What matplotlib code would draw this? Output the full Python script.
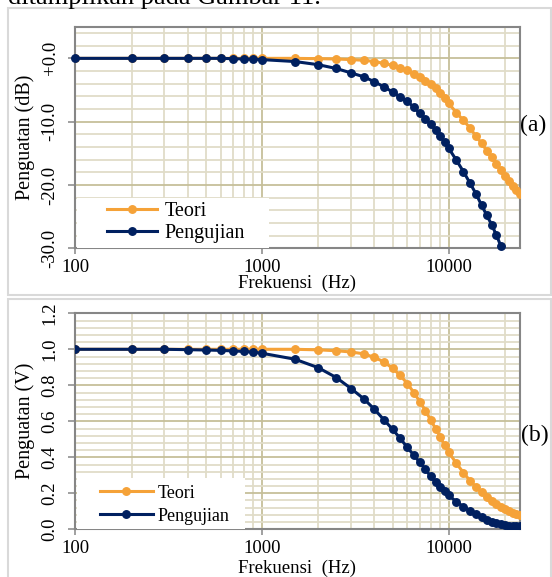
import matplotlib
matplotlib.use("Agg")
import matplotlib.pyplot as plt
from matplotlib.patches import Rectangle
from matplotlib.ticker import FixedLocator, LogLocator, NullFormatter

plt.rcParams['font.family'] = ['Liberation Serif', 'DejaVu Serif']

# frekuensi uji (Hz)
freq = [100, 200, 300, 400, 500, 600, 700, 800, 900, 1000,
        1500, 2000, 2500, 3000, 3500, 4000, 4500, 5000, 5500, 6000,
        6500, 7000, 7500, 8000, 8500, 9000, 9500, 10000,
        11000, 12000, 13000, 14000, 15000, 16000, 17000, 18000, 19000,
        20000, 21000, 22000, 23000, 24000]

# penguatan dalam dB
teori_db = [0.0, 0.0, 0.0, 0.0, 0.0, 0.0, 0.0, 0.0, 0.0, 0.0,
            0.0, -0.05, -0.1, -0.2, -0.3, -0.5, -0.8, -1.1, -1.5, -1.9,
            -2.5, -3.0, -3.5, -4.1, -4.7, -5.4, -6.2, -7.1,
            -8.6, -9.8, -11.0, -12.3, -13.4, -14.6, -15.6, -16.7, -17.7,
            -18.6, -19.4, -20.1, -20.8, -21.4]
# hasil uji di bawah -30 dB tidak tampil pada grafik
pengujian_db = [0.0, 0.0, 0.0, 0.0, 0.0, 0.0, -0.05, -0.1, -0.12, -0.2,
                -0.5, -1.0, -1.6, -2.3, -2.9, -3.7, -4.5, -5.3, -6.1, -6.8,
                -7.7, -8.7, -9.6, -10.4, -11.3, -12.3, -13.2, -14.2,
                -16.1, -17.9, -19.7, -21.4, -23.2, -24.8, -26.3, -27.9, -29.6]

# penguatan dalam V/V
teori_v = [1.0, 1.0, 1.0, 1.0, 1.0, 1.0, 1.0, 1.0, 1.0, 1.0,
           1.0, 0.997, 0.992, 0.985, 0.975, 0.955, 0.93, 0.895, 0.855, 0.81,
           0.76, 0.71, 0.66, 0.607, 0.56, 0.514, 0.468, 0.428,
           0.366, 0.314, 0.27, 0.236, 0.206, 0.181, 0.159, 0.141, 0.126,
           0.112, 0.101, 0.093, 0.086, 0.08]
pengujian_v = [1.0, 1.0, 1.0, 0.998, 0.996, 0.994, 0.991, 0.988, 0.984, 0.978,
               0.945, 0.898, 0.843, 0.782, 0.726, 0.667, 0.608, 0.556, 0.505, 0.455,
               0.412, 0.372, 0.333, 0.294, 0.264, 0.237, 0.21, 0.188,
               0.153, 0.126, 0.104, 0.084, 0.066, 0.053, 0.043, 0.034, 0.028,
               0.024, 0.021, 0.019, 0.018, 0.018]

db_ticks = [-30, -20, -10, 0]
db_labels = ['-30.0', '-20.0', '-10.0', '+0.0']
v_ticks = [0.0, 0.2, 0.4, 0.6, 0.8, 1.0, 1.2]
v_labels = ['0.0', '0.2', '0.4', '0.6', '0.8', '1.0', '1.2']
x_ticks = [100, 1000, 10000]
x_labels = ['100', '1000', '10000']

ORANGE = '#F5A238'
NAVY = '#002060'
GRID_MAJOR = '#C6BF9A'
GRID_MINOR = '#E0DCC8'
SPINE = '#868686'

W, H = 552, 577


def px_rect(l, t, r, b):
    return [l / W, 1 - b / H, (r - l) / W, (b - t) / H]


def style_axes(ax, yticks, ylabels, ylim, yminor, ylabel, xlabel_y):
    ax.set_xscale('log')
    ax.set_xlim(100, 24000)
    ax.set_ylim(*ylim)
    ax.xaxis.set_major_locator(FixedLocator(x_ticks))
    ax.set_xticklabels(x_labels)
    ax.xaxis.set_minor_locator(LogLocator(base=10, subs=range(2, 10)))
    ax.xaxis.set_minor_formatter(NullFormatter())
    ax.set_yticks(yticks)
    ax.set_yticklabels(ylabels, rotation=90, va='center')
    ax.yaxis.set_minor_locator(FixedLocator(yminor))
    ax.grid(which='minor', color=GRID_MINOR, lw=1.3, zorder=0)
    ax.grid(which='major', color=GRID_MAJOR, lw=1.3, zorder=0)
    ax.set_axisbelow(True)
    for s in ax.spines.values():
        s.set_color(SPINE)
        s.set_linewidth(1.5)
    ax.tick_params(which='major', axis='y', length=5, width=1.1, color=SPINE,
                   labelsize=13.5, pad=7)
    ax.tick_params(which='major', axis='x', length=4, width=1.1, color=SPINE,
                   labelsize=13.5, pad=4)
    ax.tick_params(which='minor', length=0)
    ax.set_ylabel(ylabel, fontsize=14.5, ha='center', va='center')
    ax.yaxis.set_label_coords(-0.112, 0.5)
    ax.set_xlabel('Frekuensi  (Hz)', fontsize=13.5, va='center')
    ax.xaxis.set_label_coords(0.5, xlabel_y)


fig = plt.figure(figsize=(W / 100, H / 100), dpi=100)

# bingkai tiap gambar
fig.patches.append(Rectangle((7.5 / W, 1 - 295 / H), 543 / W, 287.5 / H,
                             transform=fig.transFigure, fill=False,
                             ec='#D9D9D9', lw=1.5))
fig.patches.append(Rectangle((7.5 / W, -0.05), 543 / W, 1 - 299.5 / H + 0.05,
                             transform=fig.transFigure, fill=False,
                             ec='#D9D9D9', lw=1.5))

fig.text(8 / W, 1 - 4.0 / H, 'ditampilkan pada Gambar 11.', fontsize=19,
         va='baseline', ha='left')

line_kw = dict(lw=2.2, marker='o', ms=5.4)

# (a) penguatan dB
ax_a = fig.add_axes(px_rect(75.3, 26.7, 519.7, 248.3))
style_axes(ax_a, db_ticks, db_labels, (-30, 5), list(range(-28, 5, 2)),
           'Penguatan (dB)', -0.157)
ax_a.plot(freq, teori_db, color=ORANGE, label='Teori', zorder=3, **line_kw)
ax_a.plot(freq[:len(pengujian_db)], pengujian_db, color=NAVY, label='Pengujian',
          zorder=3, clip_on=False, **line_kw)
ax_a.add_patch(Rectangle((0.004, 0.003), 0.431, 0.224, transform=ax_a.transAxes,
                         fc='white', ec='none', zorder=4))
ax_a.legend(loc='lower left', bbox_to_anchor=(0.071, 0.025), frameon=False,
            fontsize=14.5, handlelength=2.5, handletextpad=0.35, labelspacing=0.15,
            borderpad=0, borderaxespad=0).set_zorder(5)
fig.text(533.5 / W, 1 - 125 / H, '(a)', fontsize=17, ha='center', va='center')

# (b) penguatan V
ax_b = fig.add_axes(px_rect(75.3, 313.3, 519.7, 529.3))
v_minor = [round(0.04 * i, 2) for i in range(1, 30)]
style_axes(ax_b, v_ticks, v_labels, (0, 1.2), v_minor, 'Penguatan (V)', -0.179)
ax_b.plot(freq, teori_v, color=ORANGE, label='Teori', zorder=3, **line_kw)
ax_b.plot(freq, pengujian_v, color=NAVY, label='Pengujian', zorder=3, **line_kw)
ax_b.add_patch(Rectangle((0.004, 0.003), 0.378, 0.234, transform=ax_b.transAxes,
                         fc='white', ec='none', zorder=4))
ax_b.legend(loc='lower left', bbox_to_anchor=(0.056, 0.022), frameon=False,
            fontsize=13, handlelength=2.9, handletextpad=0.3, labelspacing=0.33,
            borderpad=0, borderaxespad=0).set_zorder(5)
fig.text(534.5 / W, 1 - 435 / H, '(b)', fontsize=17, ha='center', va='center')

fig.savefig('out.png', dpi=100)
